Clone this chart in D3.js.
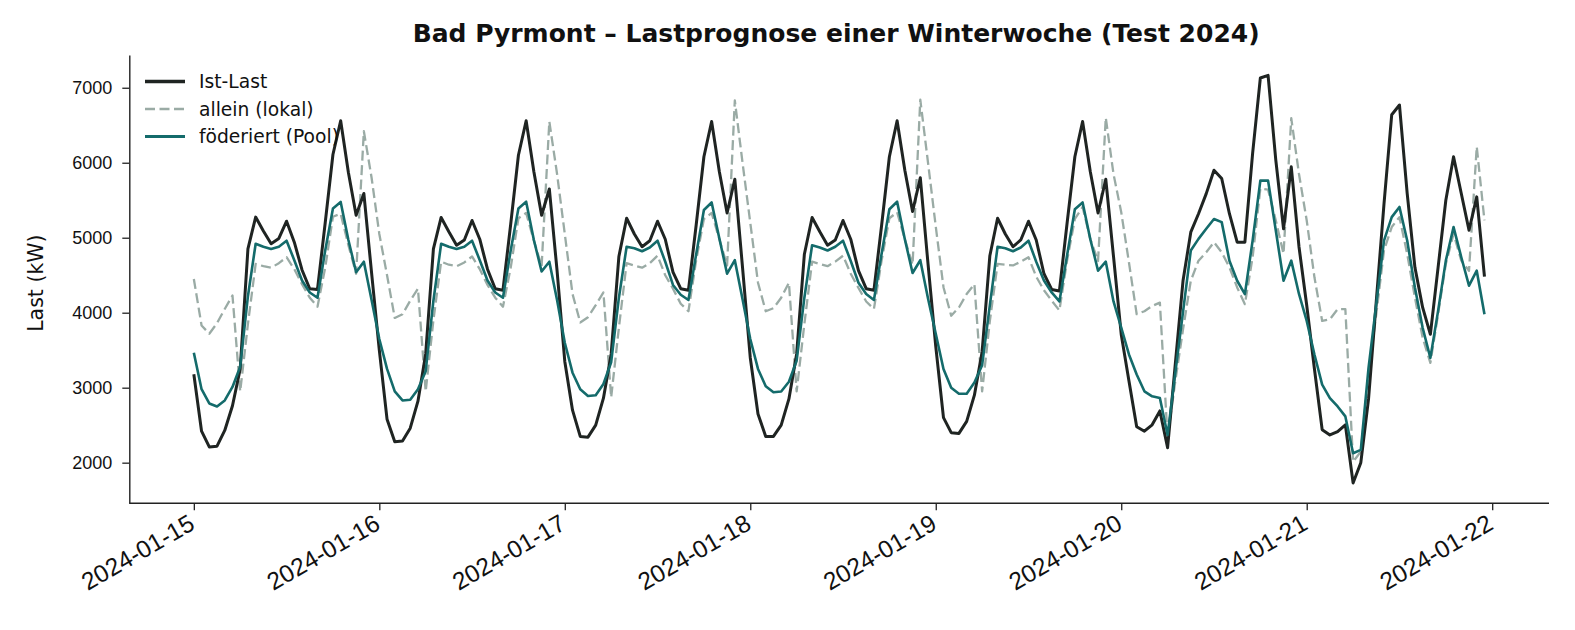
<!DOCTYPE html>
<head>
<meta charset="utf-8">
<script src="https://cdn.jsdelivr.net/npm/d3@7"></script>
<style>
  body { margin: 0; background: #fff; }
  svg { font-family: "DejaVu Sans", sans-serif; }
</style>
</head>
<body>
<svg id="chart" width="1575" height="630"></svg>
<script>
var title = "Bad Pyrmont \u2013 Lastprognose einer Winterwoche (Test 2024)"
var yLabel = "Last (kW)"
var seriesNames = ["Ist-Last", "allein (lokal)", "f\u00f6deriert (Pool)"]
var tickDays = ["2024-01-15", "2024-01-16", "2024-01-17", "2024-01-18", "2024-01-19", "2024-01-20", "2024-01-21", "2024-01-22"]
var yTicks = [2000, 3000, 4000, 5000, 6000, 7000]
var start = "2024-01-15T00:00Z", end = "2024-01-22T00:00Z"

// hourly values, one row per day
var istLast = [
  3180, 2420, 2210, 2220, 2430, 2760, 3250, 4850, 5275, 5090, 4920, 4990, 5220, 4940, 4570, 4320, 4310, 5200, 6110, 6560, 5870, 5300, 5590, 4530,
  3500, 2580, 2280, 2290, 2460, 2820, 3450, 4850, 5270, 5080, 4900, 4970, 5230, 4980, 4580, 4320, 4300, 5180, 6100, 6560, 5880, 5300, 5650, 4560,
  3350, 2700, 2350, 2340, 2500, 2860, 3450, 4750, 5260, 5050, 4880, 4960, 5220, 4980, 4540, 4320, 4300, 5170, 6080, 6550, 5880, 5330, 5780, 4600,
  3400, 2650, 2350, 2350, 2500, 2850, 3450, 4780, 5270, 5080, 4900, 4970, 5230, 4980, 4560, 4320, 4300, 5170, 6080, 6560, 5900, 5350, 5800, 4650,
  3550, 2600, 2400, 2390, 2550, 2900, 3480, 4760, 5260, 5050, 4880, 4970, 5220, 4970, 4520, 4310, 4290, 5200, 6080, 6550, 5880, 5330, 5780, 4750,
  3710, 3090, 2480, 2420, 2505, 2690, 2200, 3320, 4430, 5074, 5320, 5588, 5900, 5790, 5320, 4940, 4940, 6124, 7130, 7165, 6035, 5120, 5945, 4880,
  4100, 3250, 2440, 2370, 2415, 2505, 1730, 2000, 2850, 4150, 5450, 6640, 6770, 5590, 4605, 4070, 3712, 4605, 5500, 6080, 5590, 5100, 5545, 4480
]
var allein = [
  4450, 3830, 3720, 3860, 4050, 4230, 2950, 3850, 4650, 4620, 4600, 4660, 4740, 4580, 4380, 4200, 4080, 4600, 5280, 5320, 4900, 4520, 6420, 5800,
  5050, 4500, 3930, 3980, 4160, 4320, 2950, 3900, 4680, 4640, 4620, 4670, 4750, 4580, 4370, 4200, 4080, 4600, 5260, 5330, 4960, 4620, 6550, 5850,
  5050, 4250, 3870, 3940, 4100, 4270, 2870, 3800, 4660, 4630, 4600, 4660, 4760, 4500, 4320, 4120, 4020, 4700, 5250, 5330, 4980, 4630, 6830, 6000,
  5200, 4400, 4020, 4060, 4200, 4400, 2950, 3850, 4680, 4650, 4620, 4680, 4760, 4520, 4330, 4150, 4050, 4700, 5260, 5340, 4980, 4640, 6840, 6000,
  5150, 4340, 3960, 4070, 4250, 4380, 2950, 3890, 4650, 4640, 4630, 4680, 4740, 4480, 4300, 4160, 4030, 4700, 5250, 5410, 4980, 4690, 6600, 5850,
  5340, 4670, 3980, 4020, 4090, 4135, 2330, 3090, 3780, 4426, 4694, 4806, 4940, 4806, 4605, 4337, 4114, 4740, 5655, 5640, 5230, 4784, 6594, 5850,
  5230, 4472, 3890, 3913, 4047, 4047, 2013, 2147, 3175, 3980, 4830, 5142, 5275, 4784, 4203, 3667, 3332, 3980, 4650, 5052, 4694, 4560, 6214, 5230
]
var foederiert = [
  3466, 2980, 2790, 2750, 2830, 3010, 3280, 4220, 4920, 4880, 4850, 4880, 4960, 4700, 4430, 4270, 4200, 4830, 5390, 5477, 4970, 4540, 4680, 4170,
  3650, 3250, 2950, 2830, 2840, 2980, 3220, 4160, 4920, 4880, 4850, 4880, 4960, 4700, 4430, 4270, 4200, 4830, 5390, 5480, 4970, 4550, 4680, 4170,
  3600, 3200, 2980, 2890, 2900, 3050, 3340, 4200, 4880, 4860, 4820, 4870, 4960, 4680, 4370, 4240, 4170, 4780, 5370, 5470, 4990, 4520, 4700, 4180,
  3650, 3250, 3020, 2940, 2950, 3080, 3360, 4200, 4900, 4870, 4830, 4880, 4960, 4690, 4400, 4250, 4170, 4790, 5380, 5480, 4980, 4530, 4700, 4190,
  3720, 3250, 3000, 2920, 2920, 3070, 3300, 4100, 4880, 4860, 4820, 4870, 4960, 4680, 4430, 4270, 4150, 4770, 5380, 5470, 4980, 4560, 4680, 4150,
  3800, 3443, 3175, 2952, 2885, 2862, 2370, 3200, 4015, 4830, 4985, 5120, 5250, 5208, 4694, 4426, 4248, 4962, 5761, 5761, 5097, 4426, 4694, 4250,
  3890, 3443, 3041, 2862, 2750, 2617, 2125, 2170, 3264, 4114, 4962, 5275, 5410, 4962, 4337, 3800, 3398, 4024, 4694, 5142, 4740, 4360, 4560, 3980
]

var colors = ["#1f2422", "#9aaba5", "#146b6b"]
var widths = [3.0, 2.3, 2.6]
var dash = '10,4.5'

var times = d3.utcHour.range(new Date(start), new Date(end))
var series = [istLast, allein, foederiert]

var svg = d3.select('#chart')
var mLeft = 129.3, mRight = 1549, mTop = 55, mBottom = 503.3

var tExt = d3.extent(times), tPad = (tExt[1] - tExt[0]) * 0.05
var x = d3.scaleUtc()
  .domain([new Date(+tExt[0] - tPad), new Date(+tExt[1] + tPad)])
  .range([mLeft, mRight])

var yExt = d3.extent(d3.merge(series)), yPad = (yExt[1] - yExt[0]) * 0.05
var y = d3.scaleLinear()
  .domain([yExt[0] - yPad, yExt[1] + yPad])
  .range([mBottom, mTop])

var line = d3.line()
  .x(function (d, i) { return x(times[i]) })
  .y(function (d) { return y(d) })

// draw order: allein first, then Ist-Last, then föderiert on top
;[1, 0, 2].forEach(function (k) {
  svg.append('path')
    .attr('d', line(series[k]))
    .attr('fill', 'none')
    .attr('stroke', colors[k])
    .attr('stroke-width', widths[k])
    .attr('stroke-linejoin', 'round')
    .attr('stroke-dasharray', k == 1 ? dash : null)
})

// axes
var xAxis = svg.append('g')
  .attr('transform', 'translate(0,' + mBottom + ')')
  .call(d3.axisBottom(x)
    .tickValues(tickDays.map(function (d) { return new Date(d + 'T00:00Z') }))
    .tickFormat(d3.utcFormat('%Y-%m-%d'))
    .tickSize(7).tickSizeOuter(0))
xAxis.selectAll('text')
  .attr('font-size', 24.5)
  .attr('fill', '#111')
  .attr('text-anchor', 'end')
  .attr('y', 0).attr('dy', 0)
  .attr('transform', 'translate(2,25) rotate(-30)')

var yAxis = svg.append('g')
  .attr('transform', 'translate(' + mLeft + ',0)')
  .call(d3.axisLeft(y).tickValues(yTicks).tickFormat(d3.format('d'))
    .tickSize(7).tickSizeOuter(0).tickPadding(10))
yAxis.selectAll('text').attr('font-size', 18).attr('fill', '#111')

svg.selectAll('.domain').attr('stroke', '#222').attr('stroke-width', 1.4)
svg.selectAll('.tick line').attr('stroke', '#222').attr('stroke-width', 1.3)
xAxis.select('.domain').attr('d', 'M' + mLeft + ',0H' + mRight)

var midY = (mTop + mBottom) / 2 + 4
svg.append('text')
  .attr('x', 43).attr('y', midY)
  .attr('transform', 'rotate(-90,43,' + midY + ')')
  .attr('text-anchor', 'middle')
  .attr('font-size', 20.5)
  .attr('fill', '#111')
  .text(yLabel)

svg.append('text')
  .attr('x', (mLeft + mRight) / 2 - 3).attr('y', 42)
  .attr('text-anchor', 'middle')
  .attr('font-size', 25)
  .attr('font-weight', 'bold')
  .attr('fill', '#111')
  .text(title)

// legend
var legend = svg.append('g').attr('transform', 'translate(145,81.5)')
seriesNames.forEach(function (name, k) {
  var g = legend.append('g').attr('transform', 'translate(0,' + k * 27.5 + ')')
  g.append('line')
    .attr('x1', 0).attr('x2', 40)
    .attr('stroke', colors[k])
    .attr('stroke-width', widths[k] + 0.4)
    .attr('stroke-dasharray', k == 1 ? dash : null)
  g.append('text')
    .attr('x', 54).attr('dy', '0.35em')
    .attr('font-size', 18.7)
    .attr('fill', '#111')
    .text(name)
})
</script>
</body>
